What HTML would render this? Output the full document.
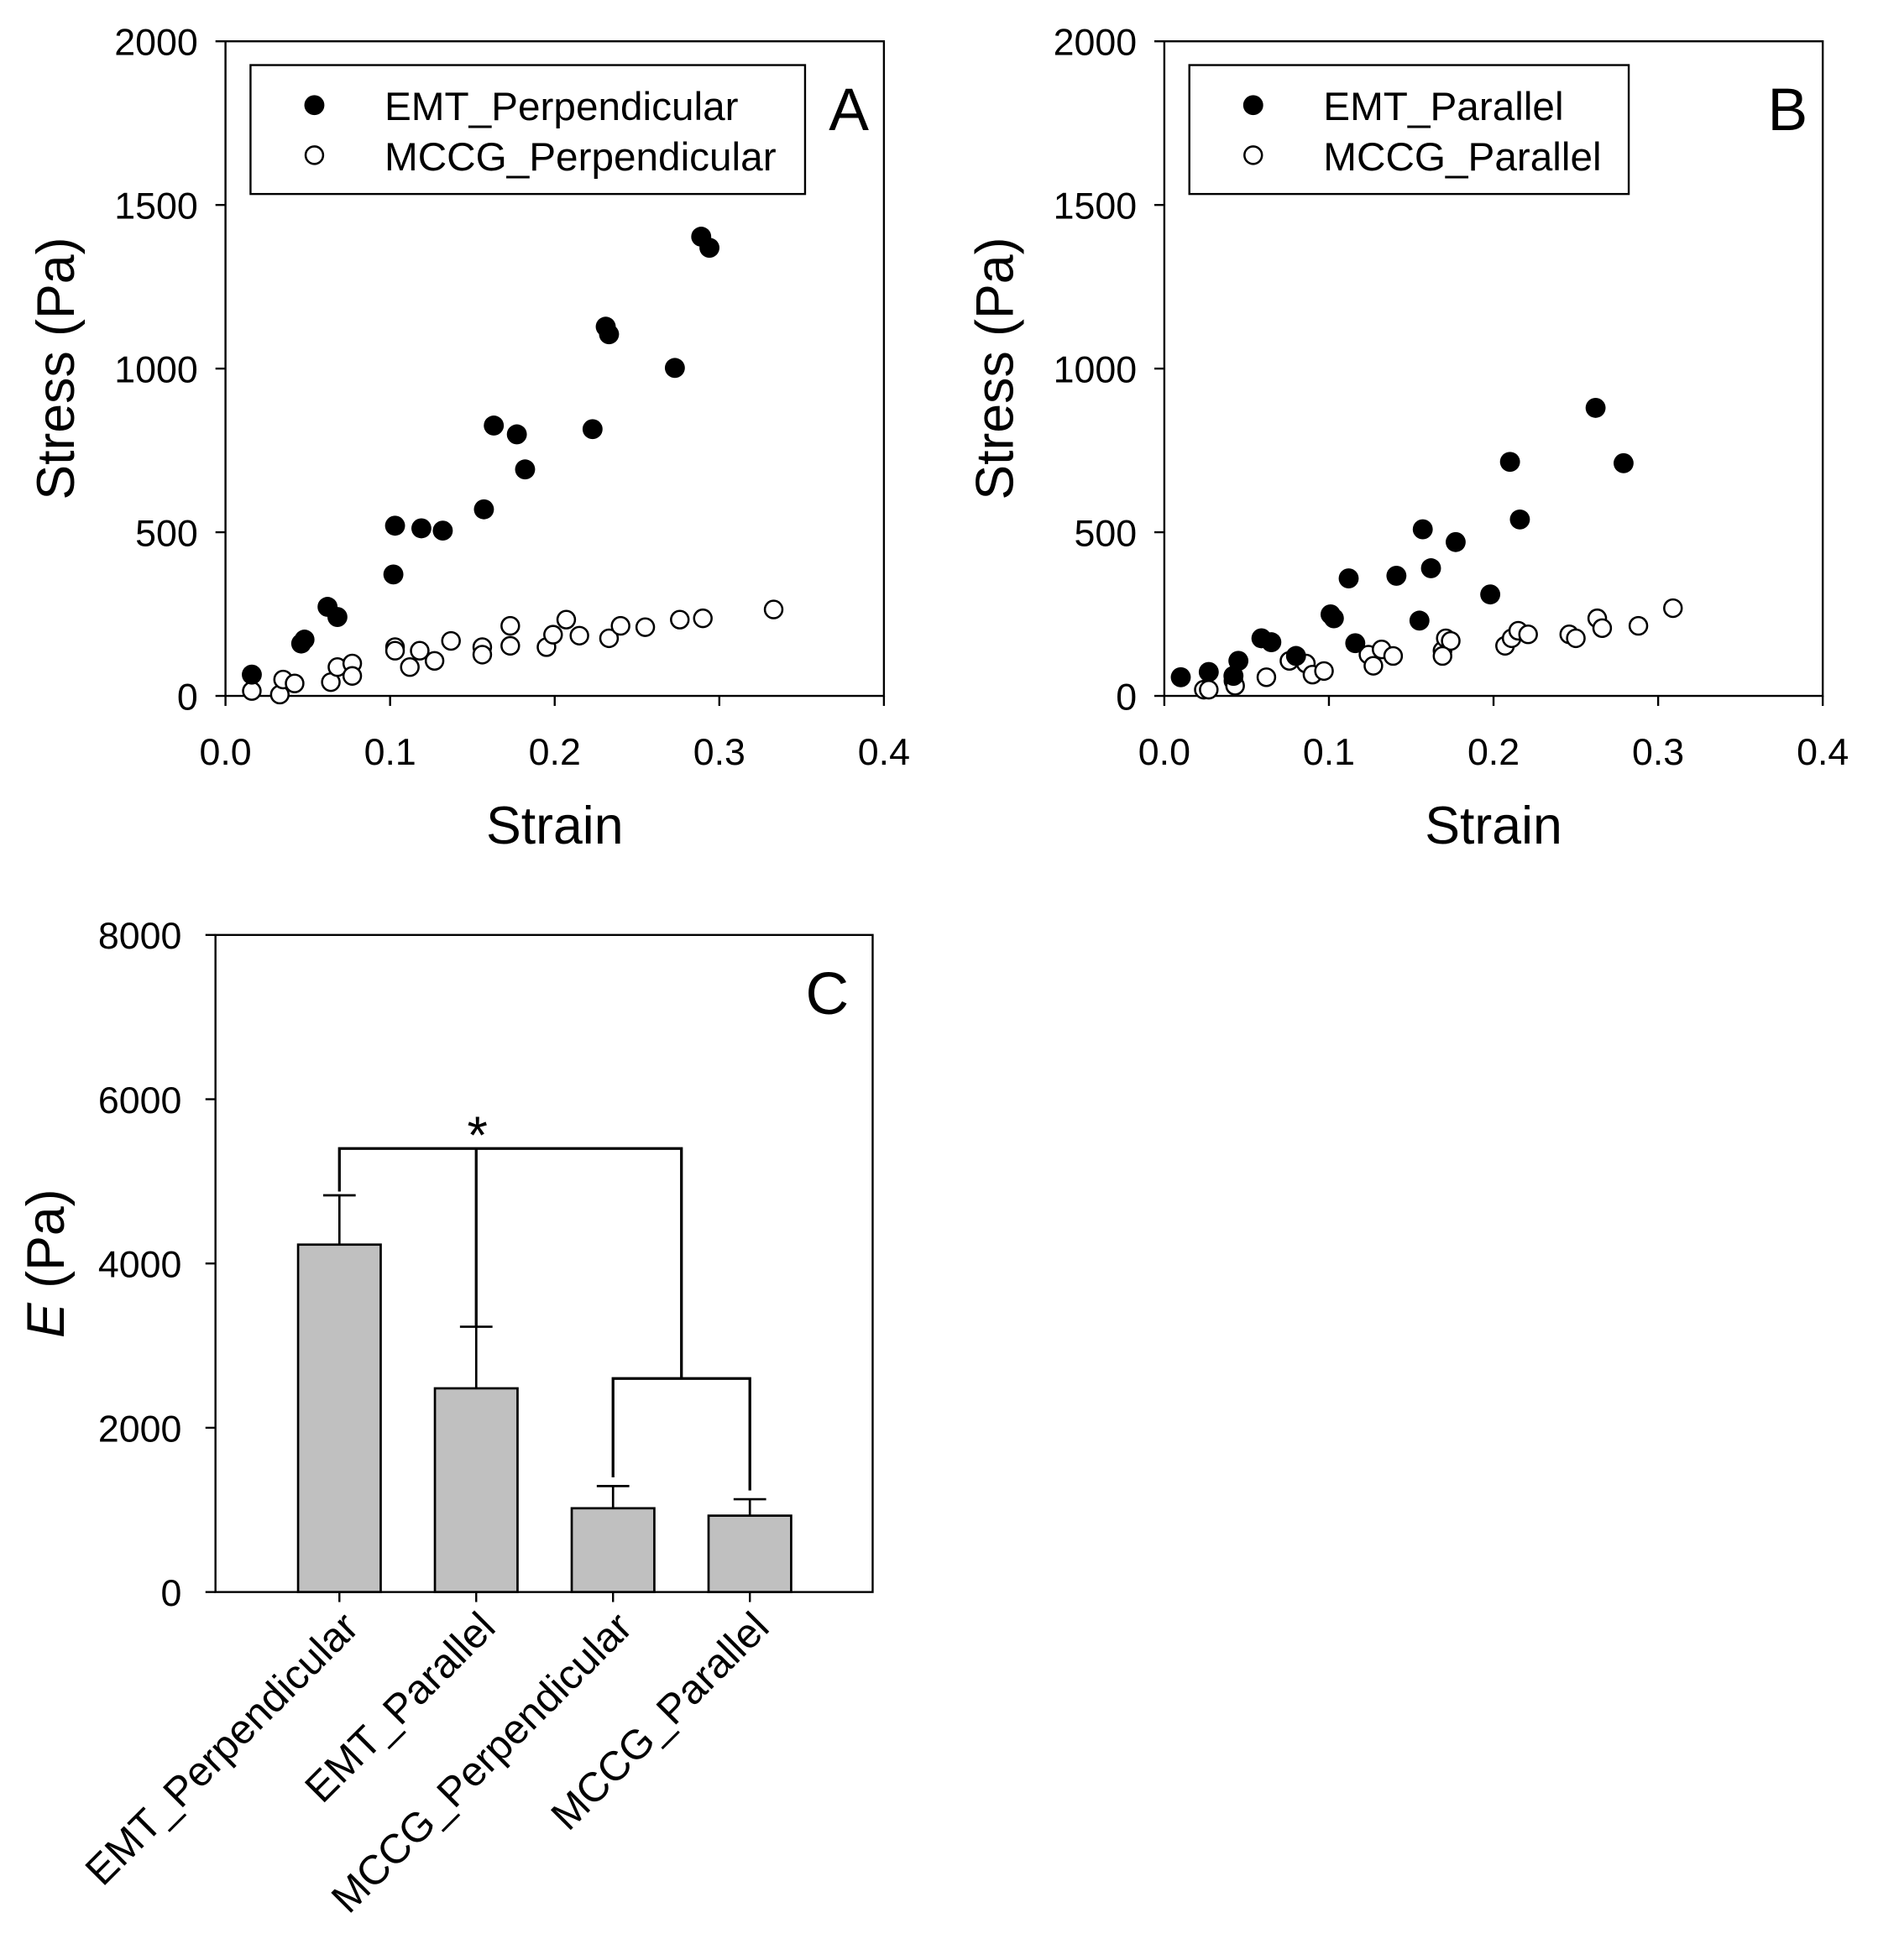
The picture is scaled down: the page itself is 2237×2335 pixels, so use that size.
<!DOCTYPE html>
<html><head><meta charset="utf-8">
<style>html,body{margin:0;padding:0;background:#fff}svg{display:block}text{font-family:"Liberation Sans",Arial,sans-serif;fill:#000}</style>
</head><body>
<svg id="fig" width="2237" height="2335" viewBox="0 0 1500 1566" xmlns="http://www.w3.org/2000/svg"></svg>
<script>
// Panel A data
const aEmtX=[0.016,0.046,0.048,0.062,0.068,0.102,0.103,0.119,0.132,0.157,0.163,0.177,0.182,0.223,0.231,0.233,0.273,0.289,0.294];
const aEmtY=[65,160,172,272,241,371,520,512,505,570,826,799,692,815,1128,1105,1002,1403,1369];
const aMccgX=[0.016,0.033,0.035,0.042,0.064,0.068,0.077,0.077,0.103,0.103,0.112,0.118,0.127,0.137,0.156,0.156,0.173,0.173,0.195,0.199,0.207,0.215,0.233,0.240,0.255,0.276,0.290,0.333];
const aMccgY=[15,4,50,38,42,88,99,61,149,138,88,138,107,168,149,126,214,153,149,187,233,184,176,214,210,233,237,264];
// Panel B data
const bEmtX=[0.010,0.027,0.042,0.045,0.059,0.065,0.080,0.101,0.103,0.112,0.116,0.141,0.155,0.157,0.162,0.177,0.198,0.210,0.216,0.262,0.279];
const bEmtY=[57,73,61,107,176,164,122,249,237,359,161,367,230,509,390,470,310,715,539,880,711];
const bMccgX=[0.024,0.027,0.042,0.043,0.062,0.076,0.086,0.090,0.097,0.124,0.127,0.132,0.139,0.169,0.171,0.174,0.169,0.207,0.211,0.215,0.221,0.246,0.250,0.263,0.266,0.288,0.309];
const bMccgY=[19,19,46,31,57,107,99,65,76,126,92,142,122,138,176,168,122,153,176,199,188,188,176,237,207,214,268];
const xTicks=[0,0.1,0.2,0.3,0.4];
const xTickLabels=["0.0","0.1","0.2","0.3","0.4"];
const yTicks=[0,500,1000,1500,2000];
// Panel C data
const cCats=["EMT_Perpendicular","EMT_Parallel","MCCG_Perpendicular","MCCG_Parallel"];
const cMeans=[4230,2480,1020,930];
const cErr=[600,750,270,200];
const cTicks=[0,2000,4000,6000,8000];

const svg=document.getElementById('fig');
const NS='http://www.w3.org/2000/svg';
function mk(tag,attrs,parent,txt){const e=document.createElementNS(NS,tag);for(const k in attrs)e.setAttribute(k,attrs[k]);if(txt!==undefined)e.textContent=txt;(parent||svg).appendChild(e);return e;}

function scatter(P){
  const g=mk('g',{});
  
  
  const sx=v=>P.l+(v/0.4)*(P.r-P.l), sy=v=>P.b-(v/2000)*(P.b-P.t);
  const box=mk('rect',{x:P.l,y:P.t,width:P.r-P.l,height:P.b-P.t,fill:'none',stroke:'#000','stroke-width':1.6},g);
  
  xTicks.forEach((v,i)=>{
    mk('line',{x1:sx(v),x2:sx(v),y1:P.b,y2:P.b+8,stroke:'#000','stroke-width':1.6},g);
    const t=mk('text',{x:sx(v),y:P.b+55,'font-size':30,'text-anchor':'middle'},g,xTickLabels[i]);
    
  });
  yTicks.forEach(v=>{
    mk('line',{x1:P.l-8,x2:P.l,y1:sy(v),y2:sy(v),stroke:'#000','stroke-width':1.6},g);
    const t=mk('text',{x:P.l-22,y:sy(v)+11,'font-size':30,'text-anchor':'end'},g,String(v));
    
  });
  const xt=mk('text',{x:(P.l+P.r)/2,y:P.b+118,'font-size':42,'text-anchor':'middle'},g,'Strain');
  
  const yt=mk('text',{x:0,y:0,'font-size':42,'text-anchor':'middle',transform:`translate(${P.l-121},${(P.t+P.b)/2}) rotate(-90)`},g,'Stress (Pa)');
  
  P.mx.forEach((v,i)=>{const c=mk('circle',{cx:sx(v),cy:sy(P.my[i]),r:7,fill:'#fff',stroke:'#000','stroke-width':1.7},g);
    });
  P.ex.forEach((v,i)=>{const c=mk('circle',{cx:sx(v),cy:sy(P.ey[i]),r:8,fill:'#000'},g);
    });
  const lg=mk('g',{},g);
  mk('rect',{x:P.l+20,y:52,width:P.lw,height:103,fill:'#fff',stroke:'#000','stroke-width':1.6},lg);
  mk('circle',{cx:P.l+71,cy:84,r:8,fill:'#000'},lg);
  mk('circle',{cx:P.l+71,cy:124,r:7,fill:'#fff',stroke:'#000','stroke-width':1.7},lg);
  const l1=mk('text',{x:P.l+127,y:96,'font-size':32},lg,P.n1);
  const l2=mk('text',{x:P.l+127,y:136,'font-size':32},lg,P.n2);
  const pl=mk('text',{x:P.r-12,y:104,'font-size':48,'text-anchor':'end'},g,P.label);
  
}
scatter({name:'panel-a',l:180,r:706,t:33,b:556,ex:aEmtX,ey:aEmtY,mx:aMccgX,my:aMccgY,lw:443,n1:'EMT_Perpendicular',n2:'MCCG_Perpendicular',label:'A'});
scatter({name:'panel-b',l:930,r:1456,t:33,b:556,ex:bEmtX,ey:bEmtY,mx:bMccgX,my:bMccgY,lw:351,n1:'EMT_Parallel',n2:'MCCG_Parallel',label:'B'});

// Panel C
(function(){
  const L=172,R=697,T=747,B=1272;
  const g=mk('g',{});
  const sy=v=>B-(v/8000)*(B-T);
  const cx=i=>271+i*109.3;
  const fr=mk('rect',{x:L,y:T,width:R-L,height:B-T,fill:'none',stroke:'#000','stroke-width':1.6},g);
  
  cTicks.forEach(v=>{
    mk('line',{x1:L-8,x2:L,y1:sy(v),y2:sy(v),stroke:'#000','stroke-width':1.6},g);
    const t=mk('text',{x:L-27,y:sy(v)+11,'font-size':30,'text-anchor':'end'},g,String(v));
    
  });
  const yt=mk('text',{x:0,y:0,'font-size':42,'text-anchor':'middle',transform:`translate(${L-121},${(T+B)/2}) rotate(-90)`},g);
  
  mk('tspan',{'font-style':'italic'},yt,'E');mk('tspan',{},yt,' (Pa)');
  cMeans.forEach((m,i)=>{
    const top=sy(m+cErr[i]);
    mk('line',{x1:cx(i),x2:cx(i),y1:top,y2:sy(m),stroke:'#000','stroke-width':1.8},g);
    mk('line',{x1:cx(i)-13,x2:cx(i)+13,y1:top,y2:top,stroke:'#000','stroke-width':1.8},g);
    const b=mk('rect',{x:cx(i)-33,y:sy(m),width:66,height:B-sy(m),fill:'#c0c0c0',stroke:'#000','stroke-width':1.8},g);
    
    mk('line',{x1:cx(i),x2:cx(i),y1:B,y2:B+8,stroke:'#000','stroke-width':1.6},g);
    const t=mk('text',{x:0,y:0,'font-size':33,'text-anchor':'end',transform:`translate(${cx(i)+17},${B+30}) rotate(-45)`},g,cCats[i]);
    
  });
  const br=mk('g',{fill:'none',stroke:'#000','stroke-width':2.2},g);
  
  const yTop=sy(5400), yLow=sy(2600), midX=(cx(2)+cx(3))/2;
  mk('polyline',{points:`${cx(0)},${sy(cMeans[0]+cErr[0])-3} ${cx(0)},${yTop} ${midX},${yTop} ${midX},${yLow}`},br);
  mk('line',{x1:cx(1),x2:cx(1),y1:yTop,y2:sy(cMeans[1]+cErr[1])},br);
  mk('polyline',{points:`${cx(2)},${sy(cMeans[2]+cErr[2])-7} ${cx(2)},${yLow} ${cx(3)},${yLow} ${cx(3)},${sy(cMeans[3]+cErr[3])-7}`},br);
  const st=mk('text',{x:cx(1)+1,y:yTop+4,'font-size':42,'text-anchor':'middle'},g,'*');
  
  const pl=mk('text',{x:R-19,y:810,'font-size':48,'text-anchor':'end'},g,'C');
  
})();
</script>
</body></html>
